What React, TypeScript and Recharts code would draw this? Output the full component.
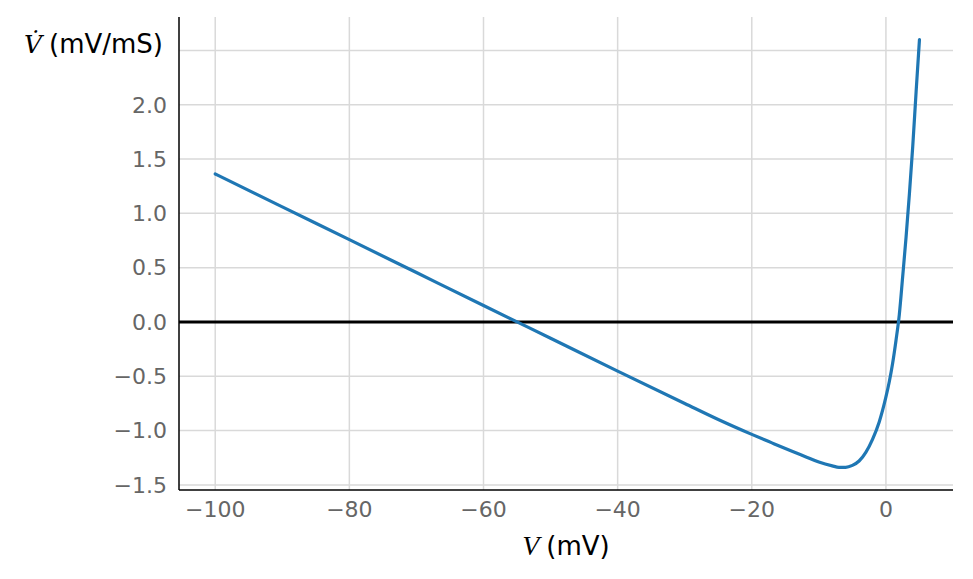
import React from "react";
import { Label, Line, LineChart, ReferenceLine, XAxis, YAxis } from "recharts";

// membrane potential (mV) and its rate of change (mV/ms)
const voltage = [
  -100, -90, -80, -70, -60, -50, -40, -30, -25, -20, -17, -14, -12, -10, -8,
  -7, -6, -5, -4, -3, -2, -1, 0, 0.5, 1, 1.5, 2, 2.5, 3, 3.5, 4, 4.5, 5,
];
const dVdt = [
  1.363, 1.06, 0.758, 0.455, 0.152, -0.15, -0.452, -0.75, -0.898, -1.035,
  -1.113, -1.19, -1.24, -1.29, -1.325, -1.338, -1.338, -1.32, -1.28, -1.2,
  -1.08, -0.92, -0.69, -0.55, -0.38, -0.17, 0.07, 0.42, 0.78, 1.18, 1.62,
  2.12, 2.6,
];

const xTicks = [-100, -80, -60, -40, -20, 0];
const yTicks = [-1.5, -1.0, -0.5, 0.0, 0.5, 1.0, 1.5, 2.0, 2.5];

const data = voltage.map((v, i) => ({ v, dv: dVdt[i] }));

const minus = (s: string) => s.replace("-", "\u2212");
const tickStyle = { fill: "#666666", fontSize: 22, fontFamily: "DejaVu Sans" };
const gridColor = "#d9d9d9";

const XTitle = ({ viewBox }: any) => (
  <text
    x={viewBox.x + viewBox.width / 2}
    y={viewBox.y + 65}
    textAnchor="middle"
    fill="#000"
    fontSize={26}
    fontFamily="DejaVu Sans"
  >
    <tspan fontFamily="Liberation Serif" fontStyle="italic" fontSize={28}>
      V
    </tspan>
    <tspan dx={7}>(mV)</tspan>
  </text>
);

const YTitle = ({ viewBox }: any) => (
  <text
    x={viewBox.x + viewBox.width - 16}
    y={viewBox.y + 36}
    textAnchor="end"
    fill="#000"
    fontSize={26}
    fontFamily="DejaVu Sans"
  >
    <tspan fontFamily="DejaVu Serif" fontStyle="italic" fontSize={25}>
      {"V\u0307"}
    </tspan>
    <tspan dx={7}>(mV/mS)</tspan>
  </text>
);

export default function App() {
  return (
    <div style={{ position: "absolute", left: 0, top: 0 }}>
      <LineChart
        width={973}
        height={579}
        data={data}
        margin={{ top: 17, right: 20, bottom: 0, left: 0 }}
      >
        <XAxis
          dataKey="v"
          type="number"
          domain={[-105.4, 10]}
          ticks={xTicks}
          height={89}
          tickLine={false}
          tickSize={0}
          tickMargin={11}
          axisLine={{ stroke: "#000", strokeWidth: 1.5 }}
          tick={tickStyle}
          tickFormatter={(v) => minus(String(v))}
        >
          <Label content={XTitle} />
        </XAxis>
        <YAxis
          type="number"
          domain={[-1.547, 2.808]}
          ticks={yTicks}
          width={179}
          tickLine={false}
          tickSize={0}
          tickMargin={12}
          axisLine={{ stroke: "#000", strokeWidth: 1.5 }}
          tick={tickStyle}
          tickFormatter={(v) => (v === 2.5 ? "" : minus(v.toFixed(1)))}
        >
          <Label content={YTitle} />
        </YAxis>
        {xTicks.map((t) => (
          <ReferenceLine key={"x" + t} x={t} stroke={gridColor} strokeWidth={1.5} />
        ))}
        {yTicks.map((t) => (
          <ReferenceLine key={"y" + t} y={t} stroke={gridColor} strokeWidth={1.5} />
        ))}
        <ReferenceLine y={0} stroke="#000" strokeWidth={3} />
        <Line
          dataKey="dv"
          type="monotone"
          stroke="#1f77b4"
          strokeWidth={3.2}
          dot={false}
          strokeLinecap="round"
          isAnimationActive={false}
        />
      </LineChart>
    </div>
  );
}
